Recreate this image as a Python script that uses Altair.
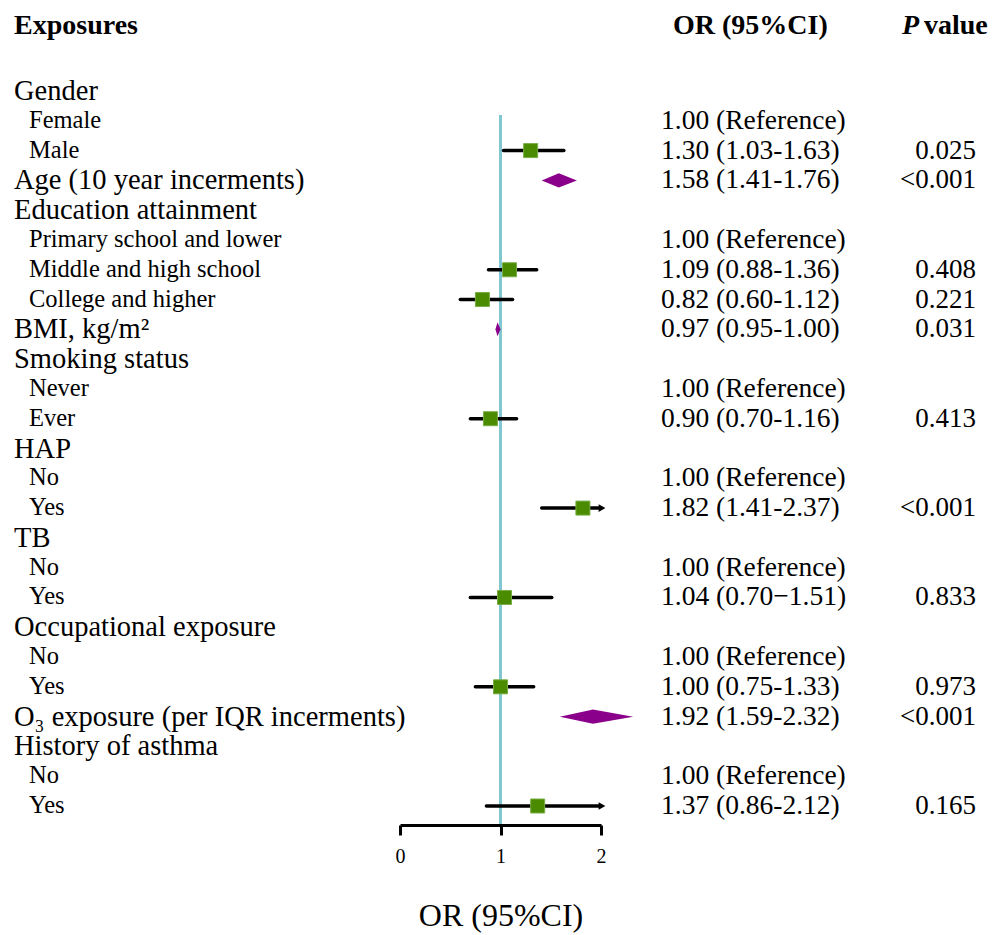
import altair as alt
import pandas as pd

FONT = "Liberation Serif"

# ---------------- data ----------------
labels = ["Gender", "Female", "Male", "Age (10 year incerments)",
          "Education attainment", "Primary school and lower",
          "Middle and high school", "College and higher", "BMI, kg/m\u00b2",
          "Smoking status", "Never", "Ever", "HAP", "No", "Yes", "TB", "No",
          "Yes", "Occupational exposure", "No", "Yes",
          "O\u2083 exposure (per IQR incerments)", "History of asthma", "No", "Yes"]
is_sub = [0, 1, 1, 0, 0, 1, 1, 1, 0, 0, 1, 1, 0, 1, 1, 0, 1, 1, 0, 1, 1, 0, 0, 1, 1]
or_text = ["", "1.00 (Reference)", "1.30 (1.03-1.63)", "1.58 (1.41-1.76)", "",
           "1.00 (Reference)", "1.09 (0.88-1.36)", "0.82 (0.60-1.12)",
           "0.97 (0.95-1.00)", "", "1.00 (Reference)", "0.90 (0.70-1.16)", "",
           "1.00 (Reference)", "1.82 (1.41-2.37)", "", "1.00 (Reference)",
           "1.04 (0.70\u22121.51)", "", "1.00 (Reference)", "1.00 (0.75-1.33)",
           "1.92 (1.59-2.32)", "", "1.00 (Reference)", "1.37 (0.86-2.12)"]
p_text = ["", "", "0.025", "<0.001", "", "", "0.408", "0.221", "0.031", "", "",
          "0.413", "", "", "<0.001", "", "", "0.833", "", "", "0.973", "<0.001",
          "", "", "0.165"]

# estimates (row index, OR, lower, upper)
sq_rows = [2, 6, 7, 11, 14, 17, 20, 24]
sq_or = [1.30, 1.09, 0.82, 0.90, 1.82, 1.04, 1.00, 1.37]
sq_lo = [1.03, 0.88, 0.60, 0.70, 1.41, 0.70, 0.75, 0.86]
sq_hi = [1.63, 1.36, 1.12, 1.16, 2.37, 1.51, 1.33, 2.12]

dm_rows = [3, 8, 21]
dm_or = [1.58, 0.97, 1.92]
dm_lo = [1.41, 0.95, 1.59]
dm_hi = [1.76, 1.00, 2.32]

# ---------------- tables ----------------
rows_df = pd.DataFrame({"row": list(range(len(labels))), "label": labels,
                        "sub": is_sub, "or_text": or_text, "p_text": p_text})
XMAX = 2
sq_df = pd.DataFrame({"row": sq_rows, "est": sq_or, "lo": sq_lo, "hi": sq_hi})
sq_df["hi_c"] = sq_df["hi"].clip(upper=XMAX)
arrow_df = sq_df[sq_df["hi"] > XMAX]

HALF = 0.235  # half height of diamond, in row units
dm_pts = []
for r, e, lo, hi in zip(dm_rows, dm_or, dm_lo, dm_hi):
    dm_pts.append({"row": r, "x": lo, "y": r, "y2": r})
    dm_pts.append({"row": r, "x": e, "y": r - HALF, "y2": r + HALF})
    dm_pts.append({"row": r, "x": hi, "y": r, "y2": r})
dm_df = pd.DataFrame(dm_pts)

# ---------------- scales ----------------
xscale = alt.Scale(domain=[0, 2], range=[392, 593], nice=False, zero=False)
yscale = alt.Scale(domain=[0, 24], range=[83, 798], nice=False, zero=False)
xaxis = alt.Axis(tickCount=3, format="d", grid=False, domainColor="black",
                 domainWidth=3, tickColor="black", tickWidth=3, tickSize=10,
                 labelFont=FONT, labelFontSize=20, labelColor="black",
                 labelPadding=11, labelOverlap=False, labelFlush=False,
                 title="OR (95%CI)", titleFont=FONT,
                 titleFontSize=32, titleFontWeight="normal", titleColor="black",
                 titleY=90, titleBaseline="middle", zindex=1)

ref_line = alt.Chart(pd.DataFrame({"x": [1]})).mark_rule(
    color="#80c7d1", strokeWidth=3).encode(
    x=alt.X("x:Q", scale=xscale, axis=xaxis),
    y=alt.value(107), y2=alt.value(817))

ci = alt.Chart(sq_df).mark_rule(color="black", strokeWidth=3.5,
                                strokeCap="round").encode(
    x=alt.X("lo:Q", scale=xscale, axis=xaxis), x2="hi_c:Q",
    y=alt.Y("row:Q", scale=yscale, axis=None))

arrows = alt.Chart(arrow_df).mark_point(shape="triangle-right", filled=True,
                                        size=60, color="black", opacity=1,
                                        xOffset=1).encode(
    x=alt.X("hi_c:Q", scale=xscale, axis=xaxis),
    y=alt.Y("row:Q", scale=yscale, axis=None))

squares = alt.Chart(sq_df).mark_point(shape="square", filled=True, size=196,
                                      fill="#4b8b00", stroke="#78ad45",
                                      strokeWidth=1, opacity=1).encode(
    x=alt.X("est:Q", scale=xscale, axis=xaxis),
    y=alt.Y("row:Q", scale=yscale, axis=None))

diamonds = alt.Chart(dm_df).mark_area(color="#8b008b", opacity=1).encode(
    x=alt.X("x:Q", scale=xscale, axis=xaxis),
    y=alt.Y("y:Q", scale=yscale, axis=None), y2="y2:Q",
    detail="row:N")

grp_text = alt.Chart(rows_df[rows_df["sub"] == 0]).mark_text(
    font=FONT, fontSize=28.5, align="left", baseline="middle", color="black").encode(
    x=alt.value(6), y=alt.Y("row:Q", scale=yscale, axis=None), text="label:N")

sub_text = alt.Chart(rows_df[rows_df["sub"] == 1]).mark_text(
    font=FONT, fontSize=24.5, align="left", baseline="middle", color="black").encode(
    x=alt.value(21), y=alt.Y("row:Q", scale=yscale, axis=None), text="label:N")

or_col = alt.Chart(rows_df[rows_df["or_text"] != ""]).mark_text(
    font=FONT, fontSize=27.5, align="left", baseline="middle", color="black").encode(
    x=alt.value(653), y=alt.Y("row:Q", scale=yscale, axis=None), text="or_text:N")

p_col = alt.Chart(rows_df[rows_df["p_text"] != ""]).mark_text(
    font=FONT, fontSize=27, align="right", baseline="middle", color="black").encode(
    x=alt.value(968), y=alt.Y("row:Q", scale=yscale, axis=None), text="p_text:N")

hdr_df = pd.DataFrame({"t": ["Exposures", "OR (95%CI)", "value"],
                       "k": ["a", "b", "c"]})
hdr_exp = alt.Chart(hdr_df[hdr_df["k"] == "a"]).mark_text(
    font=FONT, fontSize=28, fontWeight="bold", align="left", baseline="middle",
    color="black").encode(x=alt.value(6), y=alt.value(18), text="t:N")
hdr_or = alt.Chart(hdr_df[hdr_df["k"] == "b"]).mark_text(
    font=FONT, fontSize=28, fontWeight="bold", align="left", baseline="middle",
    color="black").encode(x=alt.value(665), y=alt.value(18), text="t:N")
hdr_val = alt.Chart(hdr_df[hdr_df["k"] == "c"]).mark_text(
    font=FONT, fontSize=28, fontWeight="bold", align="left", baseline="middle",
    color="black").encode(x=alt.value(916), y=alt.value(18), text="t:N")
hdr_p = alt.Chart(pd.DataFrame({"t": ["P"]})).mark_text(
    font=FONT, fontSize=28, fontWeight="bold", fontStyle="italic", align="left",
    baseline="middle", color="black").encode(x=alt.value(894), y=alt.value(18),
                                             text="t:N")

chart = alt.layer(ref_line, ci, arrows, squares, diamonds, grp_text, sub_text,
                  or_col, p_col, hdr_exp, hdr_or, hdr_val, hdr_p).properties(
    width=983, height=817,
    padding={"left": 0, "top": 0, "right": 0, "bottom": 110},
    autosize=alt.AutoSizeParams(type="none"),
    background="white",
).configure_view(strokeWidth=0)

chart.save("out.html", embed_options={"renderer": "svg", "actions": False})
